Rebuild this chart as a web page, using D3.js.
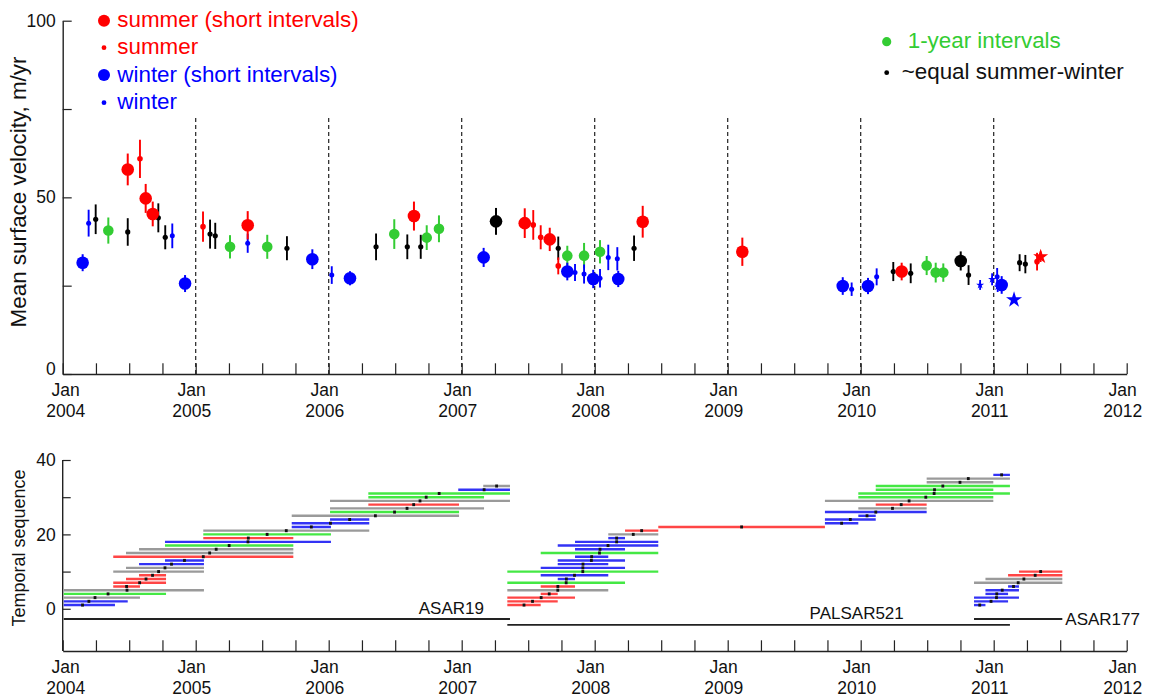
<!DOCTYPE html>
<html>
<head>
<meta charset="utf-8">
<script src="https://cdn.jsdelivr.net/npm/d3@7"></script>
<style>
  html, body { margin: 0; padding: 0; background: #fff; }
  svg { display: block; font-family: "Liberation Sans", Arial, sans-serif; }
</style>
</head>
<body>
<svg id="chart" width="1150" height="697"></svg>
<script>
// ---------- data (decimal years, velocity m/yr, half error bar m/yr) ----------
const yearLabels = [2004, 2005, 2006, 2007, 2008, 2009, 2010, 2011, 2012];
const seasonLines = [2005, 2006, 2007, 2008, 2009, 2010, 2011];
const velocityTicks = [0, 25, 50, 75, 100];
const velocityLabels = [0, 50, 100];
const sequenceTicks = [0, 10, 20, 30, 40];
const sequenceLabels = [0, 20, 40];

const summerShort = [[2004.489, 57.9, 4.5], [2004.624, 49.7, 4.1], [2004.677, 45.3, 3.5],
  [2005.391, 42.1, 4.0], [2006.641, 44.7, 4.1], [2007.474, 42.7, 4.2], [2007.662, 38.1, 3.3],
  [2008.361, 43.1, 4.5], [2009.110, 34.6, 4.0], [2010.308, 29.0, 2.5]];
const summer = [[2004.581, 60.9, 5.4], [2005.055, 41.7, 4.3], [2007.538, 42.2, 4.2],
  [2007.594, 38.7, 3.4], [2007.726, 30.6, 2.4], [2011.326, 31.8, 2.5]];
const winterShort = [[2004.150, 31.5, 2.4], [2004.920, 25.6, 2.4], [2005.877, 32.5, 2.8],
  [2006.160, 27.1, 2.0], [2007.165, 33.0, 2.7], [2007.794, 29.0, 2.5], [2007.989, 26.9, 2.6],
  [2008.177, 26.9, 2.3], [2009.865, 24.9, 2.5], [2010.055, 24.9, 2.3], [2011.060, 25.2, 2.5]];
const winter = [[2004.195, 42.7, 3.8], [2004.824, 39.1, 3.5], [2005.391, 37.0, 2.7],
  [2006.023, 28.0, 2.5], [2007.852, 28.7, 2.4], [2007.920, 28.3, 2.7], [2008.040, 27.1, 2.6],
  [2008.102, 33.0, 3.6], [2008.170, 32.6, 3.3], [2009.932, 24.0, 1.9], [2010.120, 27.5, 2.4],
  [2011.026, 27.5, 2.5]];
const oneYear = [[2004.343, 40.6, 3.7], [2005.258, 36.0, 3.3], [2005.538, 36.0, 3.4],
  [2006.493, 39.6, 4.2], [2006.737, 38.6, 3.5], [2006.829, 41.1, 3.8], [2007.794, 33.5, 2.8],
  [2007.920, 33.5, 3.6], [2008.040, 34.6, 3.3], [2010.496, 30.7, 2.7], [2010.564, 28.7, 2.8],
  [2010.621, 28.7, 2.6]];
const equalSW = [[2004.248, 43.8, 4.2], [2004.489, 40.2, 3.9], [2004.719, 44.2, 4.1],
  [2004.771, 38.7, 3.4], [2005.108, 39.6, 4.1], [2005.147, 39.1, 3.7], [2005.686, 35.6, 3.4],
  [2006.356, 36.0, 3.8], [2006.591, 36.0, 3.5], [2006.692, 36.0, 3.4], [2007.726, 35.6, 3.3],
  [2008.296, 35.6, 3.6], [2010.245, 29.0, 2.7], [2010.376, 28.5, 2.8], [2010.811, 28.0, 2.8],
  [2011.195, 31.5, 2.4], [2011.238, 31.1, 2.6]];
const equalSWShort = [[2007.258, 43.2, 3.8], [2010.752, 32.0, 2.7]];
const winterStarsSmall = [[2010.898, 25.2, 1.4], [2010.988, 26.8, 1.7], [2011.030, 24.7, 1.5]];
const winterStarBig = [[2011.153, 21.0, 0]];
const summerStar = [[2011.353, 33.2, 1.5]];

// interval pairs: [sequence number, first date, second date, kind]
// kinds: S summer, W winter, Y one year, E ~equal summer-winter
const asar19Pairs = [
  [1, 2003.905, 2004.393, "W"], [2, 2003.905, 2004.489, "W"], [3, 2003.905, 2004.581, "E"],
  [4, 2003.905, 2004.777, "Y"], [5, 2003.905, 2005.062, "E"], [6, 2004.380, 2004.581, "S"],
  [7, 2004.380, 2004.777, "S"], [8, 2004.476, 2004.777, "S"], [9, 2004.574, 2004.777, "S"],
  [10, 2004.380, 2005.062, "E"], [11, 2004.476, 2005.062, "E"], [12, 2004.574, 2005.062, "W"],
  [13, 2004.769, 2005.062, "W"], [14, 2004.380, 2005.734, "S"], [15, 2004.476, 2005.734, "E"],
  [16, 2004.574, 2005.734, "E"], [17, 2004.769, 2005.734, "Y"], [18, 2004.769, 2006.017, "W"],
  [19, 2005.057, 2005.734, "S"], [20, 2005.057, 2006.017, "Y"], [21, 2005.057, 2006.305, "E"],
  [22, 2005.722, 2006.017, "W"], [23, 2005.722, 2006.305, "W"], [24, 2006.010, 2006.305, "W"],
  [25, 2005.722, 2006.980, "E"], [26, 2006.010, 2006.980, "Y"], [27, 2006.010, 2007.168, "E"],
  [28, 2006.298, 2006.980, "S"], [29, 2006.010, 2007.363, "E"], [30, 2006.298, 2007.168, "Y"],
  [31, 2006.298, 2007.363, "Y"], [32, 2006.974, 2007.363, "W"], [33, 2007.162, 2007.363, "E"]];
const palsar521Pairs = [
  [1, 2007.343, 2007.594, "S"], [2, 2007.343, 2007.722, "S"], [3, 2007.343, 2007.852, "S"],
  [4, 2007.594, 2007.722, "S"], [5, 2007.343, 2008.102, "E"], [6, 2007.594, 2007.852, "S"],
  [7, 2007.343, 2008.228, "Y"], [8, 2007.722, 2007.852, "W"], [9, 2007.594, 2008.102, "W"],
  [10, 2007.343, 2008.478, "Y"], [11, 2007.594, 2008.228, "W"], [12, 2007.722, 2008.102, "W"],
  [13, 2007.722, 2008.228, "W"], [14, 2007.852, 2008.102, "W"], [15, 2007.594, 2008.478, "Y"],
  [16, 2007.852, 2008.228, "W"], [17, 2007.722, 2008.478, "W"], [18, 2007.852, 2008.478, "W"],
  [19, 2008.102, 2008.228, "W"], [20, 2008.102, 2008.478, "E"], [21, 2008.228, 2008.478, "S"],
  [22, 2008.478, 2009.731, "S"], [23, 2009.731, 2009.982, "W"], [24, 2009.731, 2010.113, "W"],
  [25, 2009.982, 2010.113, "W"], [26, 2009.731, 2010.496, "W"], [27, 2009.982, 2010.496, "E"],
  [28, 2010.113, 2010.496, "S"], [29, 2009.731, 2010.997, "E"], [30, 2009.982, 2010.997, "Y"],
  [31, 2009.982, 2011.122, "Y"], [32, 2010.113, 2010.997, "Y"], [33, 2010.113, 2011.122, "Y"],
  [34, 2010.496, 2010.997, "E"], [35, 2010.496, 2011.122, "E"], [36, 2010.997, 2011.122, "W"]];
const asar177Pairs = [
  [1, 2010.852, 2010.938, "W"], [2, 2010.852, 2011.108, "W"], [3, 2010.852, 2011.190, "W"],
  [4, 2010.938, 2011.108, "W"], [5, 2010.938, 2011.190, "W"], [6, 2011.108, 2011.190, "W"],
  [7, 2010.852, 2011.516, "E"], [8, 2010.938, 2011.516, "E"], [9, 2011.108, 2011.516, "S"],
  [10, 2011.190, 2011.516, "S"]];

const trackNames = ["ASAR19", "PALSAR521", "ASAR177"];
const trackStart = [2003.90, 2007.343, 2010.852];
const trackEnd = [2007.363, 2011.122, 2011.516];
const trackLevel = [-2.75, -4.35, -2.75];

// ---------- layout ----------
const svg = d3.select("#chart");
const FONT = "\"Liberation Sans\", Arial, sans-serif";
const xLeft = 62.7, xRight = 1126.7;
const topAxisY = 374, botAxisY = 651;

const x = d3.scaleLinear().domain([2004, 2012]).range([xLeft, xRight]);
const yVel = d3.scaleLinear().domain([0, 100]).range([topAxisY, 20.7]);
const ySeq = d3.scaleLinear().domain([-11.35, 40]).range([botAxisY, 460]);

const quarterTicks = d3.range(0, 33).map(i => 2004 + i / 4);

const colors = { red: "#ff0000", blue: "#0000ff", green: "#33cc33", black: "#000000" };
const pairColors = { S: "#ff4545", W: "#3333f5", Y: "#44e844", E: "#9a9a9a" };

function styleAxis(g) {
  g.selectAll("path.domain").attr("stroke", "#222").attr("stroke-width", 1.4);
  g.selectAll(".tick line").attr("stroke", "#222").attr("stroke-width", 1.2);
  g.selectAll("text").attr("font-family", FONT).attr("font-size", 17.5).attr("fill", "#111");
}

function drawTimeAxis(axisY) {
  const g = svg.append("g").attr("transform", `translate(0,${axisY})`)
    .call(d3.axisBottom(x).tickValues(quarterTicks).tickSize(-10.7).tickSizeOuter(0).tickFormat(""));
  styleAxis(g);
  const lab = svg.append("g").attr("font-family", FONT).attr("font-size", 17.5).attr("fill", "#111")
    .attr("text-anchor", "middle");
  yearLabels.forEach(yr => {
    const cx = x(yr) + (yr === 2004 ? 3 : -4);
    lab.append("text").attr("x", cx).attr("y", axisY + 22).text("Jan");
    lab.append("text").attr("x", cx).attr("y", axisY + 43).text(yr);
  });
}

// ---------- top panel: velocities ----------
drawTimeAxis(topAxisY);

const yAxisTop = svg.append("g").attr("transform", `translate(${xLeft},0)`)
  .call(d3.axisLeft(yVel).tickValues(velocityTicks).tickSize(-9).tickSizeOuter(0).tickPadding(7)
    .tickFormat(d => velocityLabels.includes(d) ? d : ""));
styleAxis(yAxisTop);
yAxisTop.selectAll(".tick text").filter(d => d === 0).attr("dy", "0.02em");

svg.append("text")
  .attr("transform", `translate(26,${192}) rotate(-90)`)
  .attr("text-anchor", "middle").attr("font-family", FONT).attr("font-size", 22.4).attr("fill", "#111")
  .text("Mean surface velocity, m/yr");

// dashed year boundaries
svg.append("g").selectAll("line").data(seasonLines).join("line")
  .attr("x1", d => x(d)).attr("x2", d => x(d))
  .attr("y1", 118).attr("y2", topAxisY)
  .attr("stroke", "#222").attr("stroke-width", 1.2).attr("stroke-dasharray", "4,3");

function drawPoints(data, color, radius, barWidth, symbol, symSize) {
  const g = svg.append("g");
  g.selectAll("line").data(data.filter(d => d[2] > 0)).join("line")
    .attr("x1", d => x(d[0])).attr("x2", d => x(d[0]))
    .attr("y1", d => yVel(d[1] - d[2])).attr("y2", d => yVel(d[1] + d[2]))
    .attr("stroke", color).attr("stroke-width", barWidth);
  if (symbol) {
    g.selectAll("path.mk").data(data).join("path").attr("class", "mk")
      .attr("transform", d => `translate(${x(d[0])},${yVel(d[1])})`)
      .attr("d", d3.symbol().type(symbol).size(symSize)())
      .attr("fill", color);
  } else {
    g.selectAll("circle").data(data).join("circle")
      .attr("cx", d => x(d[0])).attr("cy", d => yVel(d[1])).attr("r", radius)
      .attr("fill", color);
  }
}

drawPoints(oneYear, colors.green, 5.3, 2, null);
drawPoints(equalSW, colors.black, 2.6, 1.9, null);
drawPoints(equalSWShort, colors.black, 6.3, 2, null);
drawPoints(winter, colors.blue, 2.5, 1.9, null);
drawPoints(winterShort, colors.blue, 6.3, 2, null);
drawPoints(summer, colors.red, 2.8, 1.9, null);
drawPoints(summerShort, colors.red, 6.3, 2, null);
drawPoints(winterStarsSmall, colors.blue, 0, 1.8, d3.symbolStar, 20);
drawPoints(winterStarBig, colors.blue, 0, 1.8, d3.symbolStar, 80);
drawPoints(summerStar, colors.red, 0, 1.8, d3.symbolStar, 70);

// legends
const legendLeft = [
  { label: "summer (short intervals)", color: colors.red, r: 6, cy: 20.7 },
  { label: "summer", color: colors.red, r: 2.4, cy: 47.7 },
  { label: "winter (short intervals)", color: colors.blue, r: 6, cy: 75 },
  { label: "winter", color: colors.blue, r: 2.4, cy: 102.7 }
];
const legendRight = [
  { label: "1-year intervals", color: colors.green, r: 4.6, cy: 41.7, tx: 907.7 },
  { label: "~equal summer-winter", color: colors.black, r: 2.4, cy: 72.7, tx: 901.7 }
];
const lg = svg.append("g").attr("font-family", FONT).attr("font-size", 22.4);
legendLeft.forEach(d => {
  lg.append("circle").attr("cx", 104).attr("cy", d.cy).attr("r", d.r).attr("fill", d.color);
  lg.append("text").attr("x", 117.3).attr("y", d.cy + 6.5).attr("fill", d.color).text(d.label);
});
legendRight.forEach(d => {
  lg.append("circle").attr("cx", 886.7).attr("cy", d.cy).attr("r", d.r).attr("fill", d.color);
  lg.append("text").attr("x", d.tx).attr("y", d.cy + 6.5).attr("fill", d.color === colors.black ? "#111" : d.color).text(d.label);
});

// ---------- bottom panel: temporal sequence ----------
drawTimeAxis(botAxisY);

const yAxisBot = svg.append("g").attr("transform", `translate(${xLeft},0)`)
  .call(d3.axisLeft(ySeq).tickValues(sequenceTicks).tickSize(-8).tickSizeOuter(0).tickPadding(7)
    .tickFormat(d => sequenceLabels.includes(d) ? d : ""));
styleAxis(yAxisBot);
yAxisBot.select("path.domain").attr("d", `M0,${botAxisY}V460`);

svg.append("text")
  .attr("transform", `translate(25,${548}) rotate(-90)`)
  .attr("text-anchor", "middle").attr("font-family", FONT).attr("font-size", 18).attr("fill", "#111")
  .text("Temporal sequence");

svg.append("clipPath").attr("id", "plotClip")
  .append("rect").attr("x", xLeft + 1).attr("y", 440).attr("width", xRight - xLeft).attr("height", 210);

const pairsG = svg.append("g").attr("clip-path", "url(#plotClip)");
[asar19Pairs, palsar521Pairs, asar177Pairs].forEach(pairs => {
  pairsG.append("g").selectAll("line").data(pairs).join("line")
    .attr("x1", d => x(d[1])).attr("x2", d => x(d[2]))
    .attr("y1", d => ySeq(d[0])).attr("y2", d => ySeq(d[0]))
    .attr("stroke", d => pairColors[d[3]]).attr("stroke-width", 2.4);
  pairsG.append("g").selectAll("rect").data(pairs).join("rect")
    .attr("x", d => x((d[1] + d[2]) / 2) - 1.4).attr("y", d => ySeq(d[0]) - 1.5)
    .attr("width", 2.8).attr("height", 3).attr("fill", "#111");
});

// acquisition tracks
trackNames.forEach((name, i) => {
  const yy = ySeq(trackLevel[i]);
  pairsG.append("line")
    .attr("x1", x(trackStart[i])).attr("x2", x(trackEnd[i]))
    .attr("y1", yy).attr("y2", yy)
    .attr("stroke", "#222").attr("stroke-width", 1.8);
});
const tl = svg.append("g").attr("font-family", FONT).attr("font-size", 17).attr("fill", "#111");
tl.append("text").attr("x", x(trackEnd[0]) - 26).attr("y", ySeq(trackLevel[0]) - 4.7)
  .attr("text-anchor", "end").text(trackNames[0]);
tl.append("text").attr("x", x(2010) - 4).attr("y", ySeq(trackLevel[1]) - 5.7)
  .attr("text-anchor", "middle").text(trackNames[1]);
tl.append("text").attr("x", x(trackEnd[2]) + 3).attr("y", ySeq(trackLevel[2]) + 5.5)
  .attr("text-anchor", "start").text(trackNames[2]);
</script>
</body>
</html>
